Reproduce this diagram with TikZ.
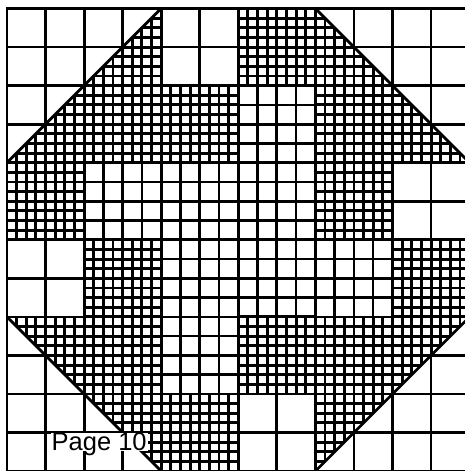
\documentclass[tikz,border=0pt]{standalone}
\usepackage{fontspec}
\setmainfont{Liberation Sans}
\tikzset{
  fineline/.style={line width=2.9pt, black},
  medline/.style={line width=2.5pt, black},
  coarseline/.style={line width=2.8pt, black, line cap=rect},
  diagline/.style={line width=2.8pt, black, line cap=round},
  pagelabel/.style={anchor=base west, fill=white, inner xsep=1pt, inner ysep=0pt,
    text depth=0pt, font=\fontsize{25.5}{25.5}\selectfont}
}
\newcommand\qgrid[6]{%
  \pgfmathtruncatemacro\qnx{#4*#6}%
  \pgfmathtruncatemacro\qny{#5*#6}%
  \foreach \k in {0,...,\qnx} \draw[#1] ({#2+\k/#6},#3) -- ({#2+\k/#6},{#3+#5});
  \foreach \k in {0,...,\qny} \draw[#1] (#2,{#3+\k/#6}) -- ({#2+#4},{#3+\k/#6});
}
\begin{document}
\begin{tikzpicture}[x=1pt,y=-1pt]
\useasboundingbox (0,0) rectangle (464,471);
\fill[white] (0,0) rectangle (464,471);
\begin{scope}[shift={(7,8.5)},x=77.1pt,y=-77.1pt]
  % fine blocks
  \qgrid{fineline}{3}{0}{1}{1}{8}
  \qgrid{fineline}{2}{1}{1}{1}{8}
  \qgrid{fineline}{0}{2}{1}{1}{8}
  \qgrid{fineline}{4}{2}{1}{1}{8}
  \qgrid{fineline}{1}{3}{1}{1}{8}
  \qgrid{fineline}{5}{3}{1}{1}{8}
  \qgrid{fineline}{3}{4}{1}{1}{8}
  \qgrid{fineline}{2}{5}{1}{1}{8}
  % medium blocks
  \qgrid{medline}{3}{1}{1}{1}{4}
  \qgrid{medline}{1}{2}{3}{1}{4}
  \qgrid{medline}{2}{3}{3}{1}{4}
  \qgrid{medline}{2}{4}{1}{1}{4}
  % fine halves of the corner triangles
  \begin{scope}\clip (2,0) -- (2,2) -- (0,2) -- cycle; \qgrid{fineline}{0}{0}{2}{2}{8}\end{scope}
  \begin{scope}\clip (4,0) -- (4,2) -- (6,2) -- cycle; \qgrid{fineline}{4}{0}{2}{2}{8}\end{scope}
  \begin{scope}\clip (0,4) -- (2,4) -- (2,6) -- cycle; \qgrid{fineline}{0}{4}{2}{2}{8}\end{scope}
  \begin{scope}\clip (4,4) -- (6,4) -- (4,6) -- cycle; \qgrid{fineline}{4}{4}{2}{2}{8}\end{scope}
  % coarse grid everywhere
  \qgrid{coarseline}{0}{0}{6}{6}{2}
  % diagonals
  \draw[diagline] (0,2) -- (2,0);
  \draw[diagline] (4,0) -- (6,2);
  \draw[diagline] (0,4) -- (2,6);
  \draw[diagline] (4,6) -- (6,4);
\end{scope}
\node[pagelabel] (page) at (50.5,450.7) {Page 10};
\end{tikzpicture}
\end{document}
